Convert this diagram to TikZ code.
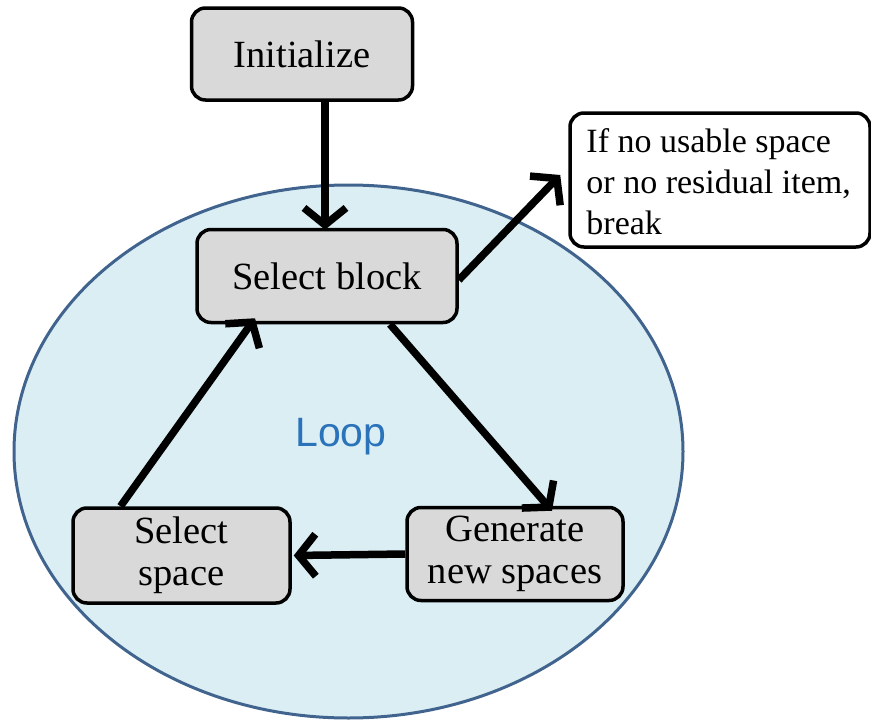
\documentclass[tikz,border=0pt]{standalone}
\usepackage{fontspec}
\setmainfont{Liberation Serif}
\newfontfamily\loopfont{Liberation Sans}
\usetikzlibrary{arrows.meta}

\definecolor{loopfill}{HTML}{DAEEF3}
\definecolor{loopedge}{HTML}{41648E}
\definecolor{looptext}{HTML}{2A72BA}
\definecolor{boxfill}{HTML}{D9D9D9}

\tikzset{
  stepbox/.style={draw=black, line width=3.5pt, fill=boxfill, rounded corners=14pt,
    align=center, inner sep=0pt, font=\fontsize{38.5}{42}\selectfont},
  notebox/.style={draw=black, line width=3.5pt, fill=white, rounded corners=14pt,
    inner sep=0pt, minimum width=300pt, minimum height=134pt},
  notetext/.style={align=left, inner sep=0pt, font=\fontsize{34}{41}\selectfont},
  flow/.style={line width=7.5pt, -{Straight Barb[length=17pt,width=42pt]}}
}

\begin{document}
\begin{tikzpicture}[x=1pt, y=-1pt]
  \useasboundingbox (0,0) rectangle (871,720);

  % loop region
  \draw[fill=loopfill, draw=loopedge, line width=3pt]
    (348.5,451.5) ellipse [x radius=334.5, y radius=266.5];
  \node[font=\loopfont\fontsize{41}{41}\selectfont, text=looptext] (loop) at (341,437) {Loop};

  % steps
  \node[stepbox, minimum width=221pt, minimum height=92pt] (init) at (302,54) {Initialize};
  \node[stepbox, minimum width=260pt, minimum height=93pt] (sb) at (327,276) {Select block};
  \node[stepbox, minimum width=216pt, minimum height=93pt] (gen) at (515,554) {Generate\\new spaces};
  \node[stepbox, minimum width=217pt, minimum height=95pt] (ss) at (181.5,555.5) {Select\\space};

  % exit condition
  \node[notebox] (note) at (720,180) {};
  \node[notetext, anchor=west] (notetxt) at ([xshift=18pt,yshift=-2pt]note.west)
    {If no usable space\\or no residual item,\\break};

  % connectors
  \draw[flow] (init.south -| 325,0) -- ([yshift=-2pt]sb.north -| 325,0);
  \draw[flow] ([yshift=-4pt]sb.east) -- ([xshift=-8pt,yshift=5pt]note.west);
  \draw[flow] ([xshift=63pt]sb.south) -- ([xshift=37pt,yshift=-5pt]gen.north);
  \draw[flow] (gen.west) -- ([xshift=2pt]ss.east);
  \draw[flow] ([xshift=-61pt]ss.north) -- ([xshift=-72pt,yshift=6pt]sb.south);
\end{tikzpicture}
\end{document}
